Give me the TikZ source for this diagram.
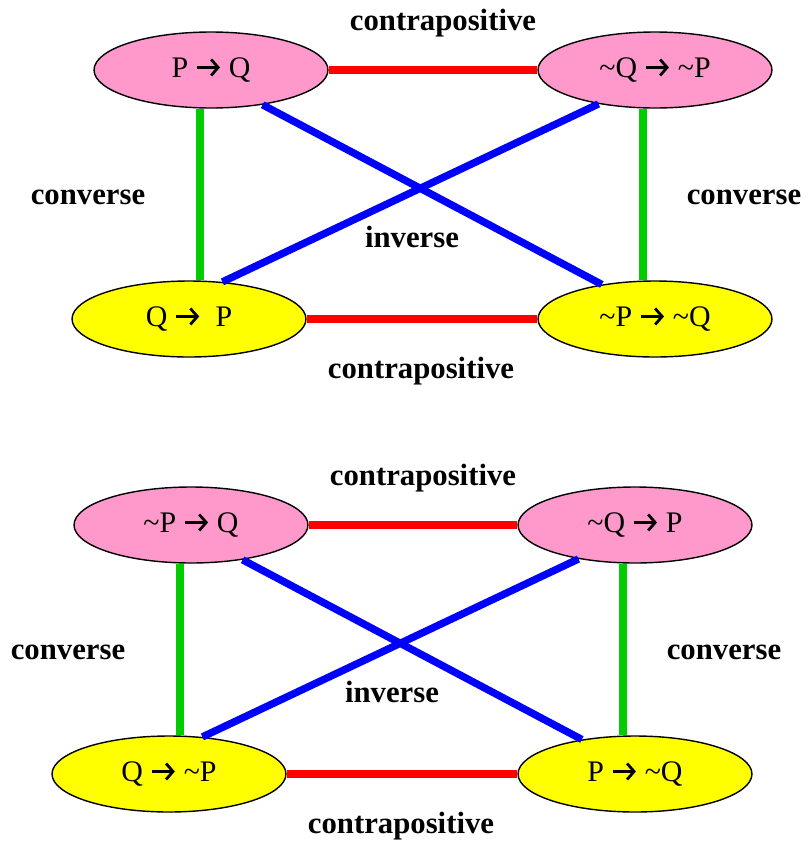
\documentclass[tikz,border=0pt]{standalone}
\usepackage{fontspec}
\setmainfont{Liberation Serif}[BoldFont={Liberation Serif Bold}]
\usetikzlibrary{shapes.geometric,calc,arrows.meta}

\newcommand\imp{\tikz[x=1cm,y=1cm,baseline={(0,-0.2cm)}]
    \draw[line width=1.6pt,-{Straight Barb[length=1.4mm,width=3.2mm]}] (0,0) -- (0.46,0);}
\newcommand\nt{\textasciitilde}

\tikzset{
    stmt/.style={ellipse,draw,thick,minimum width=4.68cm,minimum height=1.52cm,
        inner sep=0pt,font=\fontsize{17}{20}\selectfont},
    prem/.style={stmt,fill=pinkfill},
    conc/.style={stmt,fill=yellowfill},
    lbl/.style={font=\fontsize{17.5}{20}\selectfont\bfseries},
    contra/.style={red,line width=4.2pt},
    conv/.style={greenline,line width=4.2pt},
    inv/.style={blue,line width=4.2pt}
}
\definecolor{pinkfill}{RGB}{255,153,204}
\definecolor{yellowfill}{RGB}{255,255,0}
\definecolor{greenline}{RGB}{0,204,0}

\begin{document}
\begin{tikzpicture}[x=0.02cm,y=-0.02cm]
\useasboundingbox (0,0) rectangle (808,846);

% First square
\node[prem] (pq) at (211,70) {P \imp\ Q};
\node[prem] (nqnp) at (655,70) {\nt Q \imp\ \nt P};
\node[conc] (qp) at (189,319) {Q \imp\ \ P};
\node[conc] (npnq) at (655,319) {\nt P \imp\ \nt Q};

% contrapositive
\draw[contra] (pq.east) -- (nqnp.west);
\draw[contra] (qp.east) -- (npnq.west);
% converse
\draw[conv] ($(pq.south)+(-11,0)$) -- ($(qp.north)+(11,0)$);
\draw[conv] ($(nqnp.south)+(-12,0)$) -- ($(npnq.north)+(-12,0)$);
% inverse
\draw[inv] (pq.-34) -- (npnq.147);
\draw[inv] (nqnp.-149) -- (qp.48);

\node[lbl] (c1) at (443,23) {contrapositive};
\node[lbl] (v1) at (88,197) {converse};
\node[lbl] (v2) at (744,197) {converse};
\node[lbl] (i1) at (412,237) {inverse};
\node[lbl] (c2) at (421,371) {contrapositive};

% Second square
\begin{scope}[shift={(-20,455)}]
\node[prem] (npq) at (211,70) {\nt P \imp\ Q};
\node[prem] (nqp) at (655,70) {\nt Q \imp\ P};
\node[conc] (qnp) at (189,319) {Q \imp\ \nt P};
\node[conc] (pnq) at (655,319) {P \imp\ \nt Q};

% contrapositive
\draw[contra] (npq.east) -- (nqp.west);
\draw[contra] (qnp.east) -- (pnq.west);
% converse
\draw[conv] ($(npq.south)+(-11,0)$) -- ($(qnp.north)+(11,0)$);
\draw[conv] ($(nqp.south)+(-12,0)$) -- ($(pnq.north)+(-12,0)$);
% inverse
\draw[inv] (npq.-34) -- (pnq.147);
\draw[inv] (nqp.-149) -- (qnp.48);

\node[lbl] (c3) at (443,23) {contrapositive};
\node[lbl] (v3) at (88,197) {converse};
\node[lbl] (v4) at (744,197) {converse};
\node[lbl] (i2) at (412,237) {inverse};
\node[lbl] (c4) at (421,371) {contrapositive};
\end{scope}

\end{tikzpicture}
\end{document}
